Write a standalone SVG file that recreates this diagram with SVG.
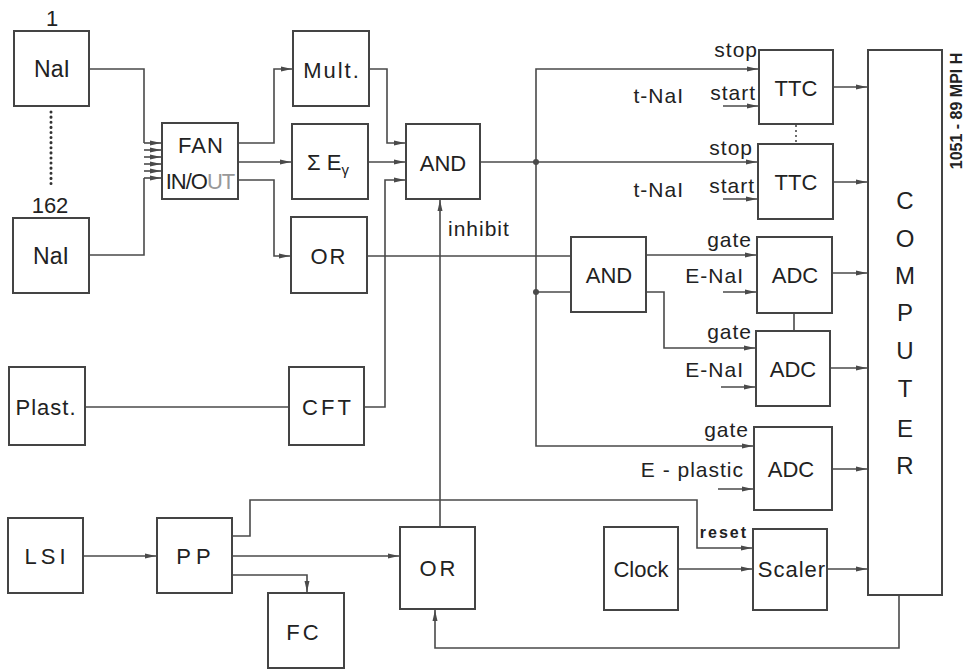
<svg xmlns="http://www.w3.org/2000/svg" width="966" height="670" viewBox="0 0 966 670">
<style>
.box{fill:#fff;stroke:#444;stroke-width:2}
.lbl{font-family:"Liberation Sans","DejaVu Sans",sans-serif;font-size:22px;fill:#222;text-anchor:middle}
.sm{font-family:"Liberation Sans","DejaVu Sans",sans-serif;font-size:21px;fill:#222;text-anchor:end;letter-spacing:1px}
.ln{fill:none;stroke:#4a4a4a;stroke-width:1.6}
.ar{marker-end:url(#ah)}
</style>
<defs>
<marker id="ah" markerUnits="userSpaceOnUse" markerWidth="12" markerHeight="8" refX="11" refY="3.5" orient="auto">
<path d="M0,1 L11,3.5 L0,6 z" fill="#4a4a4a"/>
</marker>
</defs>
<rect width="966" height="670" fill="#fff"/>

<g id="connectors">
<path class="ln" d="M89,69 H144 V143"/>
<path class="ln" d="M89,255 H144 V178"/>
<path class="ln ar" d="M144,143 H161"/>
<path class="ln ar" d="M144,150 H161"/>
<path class="ln ar" d="M144,157 H161"/>
<path class="ln ar" d="M144,164 H161"/>
<path class="ln ar" d="M144,171 H161"/>
<path class="ln ar" d="M144,178 H161"/>
<path class="ln ar" d="M238,143 H274 V69 H292"/>
<path class="ln ar" d="M238,162 H291"/>
<path class="ln ar" d="M238,180 H274 V256 H290"/>
<path class="ln ar" d="M369,69 H387 V143 H405"/>
<path class="ln ar" d="M368,162 H405"/>
<path class="ln ar" d="M364,407 H385 V180 H405"/>
<path class="ln" d="M85,407 H289"/>
<path class="ln" d="M367,256 H571"/>
<path class="ln ar" d="M480,162 H757"/>
<path class="ln ar" d="M536,162 V69 H758"/>
<path class="ln ar" d="M536,162 V446 H753"/>
<path class="ln" d="M536,292 H571"/>
<circle cx="536" cy="162" r="3" fill="#4a4a4a"/>
<circle cx="536" cy="292" r="3" fill="#4a4a4a"/>
<path class="ln ar" d="M646,255 H756"/>
<path class="ln ar" d="M646,292 H664 V348 H755"/>
<path class="ln" d="M794,313 V331"/>
<path class="ln" d="M796,125 V143" stroke-dasharray="2,3"/>
<path class="ln ar" d="M723,106 H758"/>
<path class="ln ar" d="M723,199 H757"/>
<path class="ln ar" d="M723,292 H756"/>
<path class="ln ar" d="M721,387 H755"/>
<path class="ln ar" d="M718,489 H753"/>
<path class="ln ar" d="M833,87 H867"/>
<path class="ln ar" d="M833,182 H867"/>
<path class="ln ar" d="M832,273 H867"/>
<path class="ln ar" d="M830,368 H867"/>
<path class="ln ar" d="M832,469 H867"/>
<path class="ln ar" d="M827,569 H867"/>
<path class="ln ar" d="M678,569 H752"/>
<path class="ln ar" d="M83,556 H156"/>
<path class="ln ar" d="M232,556 H399"/>
<path class="ln ar" d="M232,575 H307 V592"/>
<path class="ln ar" d="M232,536 H250 V500 H697 V548 H752"/>
<path class="ln ar" d="M440,527 V200"/>
<path class="ln ar" d="M899,595 V648 H435 V610"/>
<path d="M51,112 V188" fill="none" stroke="#333" stroke-width="3" stroke-linecap="round" stroke-dasharray="0.1,5"/>
</g>

<g id="nai1"><rect class="box" x="14" y="31" width="75" height="75"/><text class="lbl" x="52" y="77" style="font-size:23px">NaI</text><text class="lbl" x="52" y="26">1</text></g>
<g id="nai162"><rect class="box" x="13" y="218" width="76" height="75"/><text class="lbl" x="51" y="264" style="font-size:23px">NaI</text><text class="lbl" x="50" y="213">162</text></g>
<g id="fan"><rect class="box" x="162" y="123" width="76" height="76"/><text class="lbl" x="201" y="153" letter-spacing="1">FAN</text><text class="lbl" x="200" y="189" letter-spacing="-1">IN/O<tspan fill="#999">UT</tspan></text></g>
<g id="mult"><rect class="box" x="293" y="31" width="76" height="75"/><text class="lbl" x="332" y="78" letter-spacing="2">Mult.</text></g>
<g id="sum"><rect class="box" x="292" y="124" width="76" height="75"/><text class="lbl" x="328" y="170">Σ E<tspan font-size="15" dy="5">γ</tspan></text></g>
<g id="or1"><rect class="box" x="291" y="217" width="76" height="76"/><text class="lbl" x="329" y="264" letter-spacing="2">OR</text></g>
<g id="and1"><rect class="box" x="406" y="124" width="74" height="75"/><text class="lbl" x="443" y="171">AND</text><text class="sm" x="448" y="236" style="text-anchor:start">inhibit</text></g>
<g id="plast"><rect class="box" x="9" y="367" width="76" height="78"/><text class="lbl" x="46" y="415" letter-spacing="1">Plast.</text></g>
<g id="cft"><rect class="box" x="289" y="367" width="75" height="78"/><text class="lbl" x="328" y="415" letter-spacing="3">CFT</text></g>
<g id="lsi"><rect class="box" x="8" y="518" width="75" height="75"/><text class="lbl" x="47" y="564" letter-spacing="4">LSI</text></g>
<g id="pp"><rect class="box" x="157" y="518" width="75" height="75"/><text class="lbl" x="196" y="564" letter-spacing="5">PP</text></g>
<g id="fc"><rect class="box" x="268" y="593" width="76" height="75"/><text class="lbl" x="304" y="640" letter-spacing="3">FC</text></g>
<g id="or2"><rect class="box" x="400" y="527" width="75" height="82"/><text class="lbl" x="439" y="576" letter-spacing="3">OR</text></g>
<g id="clock"><rect class="box" x="604" y="527" width="74" height="83"/><text class="lbl" x="641" y="577">Clock</text></g>
<g id="scaler"><rect class="box" x="753" y="529" width="74" height="81"/><text class="lbl" x="792" y="577" letter-spacing="1">Scaler</text><text class="sm" x="748" y="538" style="font-size:16px;letter-spacing:2px;font-weight:bold">reset</text></g>
<g id="and2"><rect class="box" x="571" y="237" width="75" height="75"/><text class="lbl" x="609" y="283">AND</text></g>
<g id="ttc1"><rect class="box" x="759" y="50" width="74" height="74"/><text class="lbl" x="796" y="96">TTC</text><text class="sm" x="758" y="57">stop</text><text class="sm" x="756" y="100">start</text><text class="sm" x="684" y="103">t-NaI</text></g>
<g id="ttc2"><rect class="box" x="758" y="144" width="75" height="75"/><text class="lbl" x="796" y="190">TTC</text><text class="sm" x="753" y="155">stop</text><text class="sm" x="755" y="193">start</text><text class="sm" x="684" y="197">t-NaI</text></g>
<g id="adc1"><rect class="box" x="757" y="237" width="75" height="76"/><text class="lbl" x="795" y="283">ADC</text><text class="sm" x="752" y="247">gate</text><text class="sm" x="744" y="283">E-NaI</text></g>
<g id="adc2"><rect class="box" x="756" y="331" width="74" height="75"/><text class="lbl" x="793" y="377">ADC</text><text class="sm" x="752" y="339">gate</text><text class="sm" x="744" y="377">E-NaI</text></g>
<g id="adc3"><rect class="box" x="754" y="427" width="78" height="83"/><text class="lbl" x="791" y="477">ADC</text><text class="sm" x="749" y="437">gate</text><text class="sm" x="744" y="477">E - plastic</text></g>
<g id="computer"><rect class="box" x="868" y="50" width="74" height="545"/>
<text class="lbl" x="905" y="209" style="font-size:24px">C</text><text class="lbl" x="905" y="247" style="font-size:24px">O</text><text class="lbl" x="905" y="284" style="font-size:24px">M</text><text class="lbl" x="905" y="321" style="font-size:24px">P</text><text class="lbl" x="905" y="359" style="font-size:24px">U</text><text class="lbl" x="905" y="397" style="font-size:24px">T</text><text class="lbl" x="905" y="437" style="font-size:24px">E</text><text class="lbl" x="905" y="474" style="font-size:24px">R</text></g>
<text class="lbl" transform="translate(962,111) rotate(-90)" style="font-size:16px;font-weight:bold">1051 - 89 MPI H</text>
</svg>
